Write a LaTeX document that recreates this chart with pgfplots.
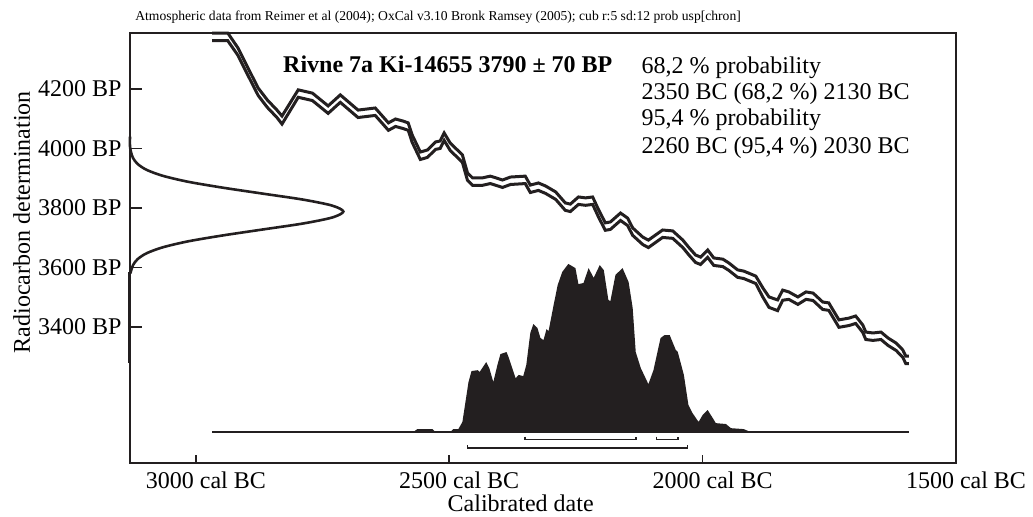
\documentclass[border=0pt,12pt]{standalone}
\usepackage{fontspec}
\setmainfont{Liberation Serif}
\usepackage{pgfplots}
\usepackage{pgfplotstable}
\pgfplotsset{compat=1.18}
\definecolor{ink}{HTML}{231F20}

% calibration curve: cal BC, upper and lower bound (BP)
\pgfplotstableread{
bc up lo
2968 4388 4362
2937 4388 4362
2917 4338 4313
2897 4270 4245
2877 4203 4178
2859 4163 4138
2840 4129 4104
2830 4109 4082
2798 4197 4172
2770 4186 4161
2739 4143 4118
2715 4180 4155
2680 4129 4104
2646 4136 4111
2620 4086 4061
2606 4099 4074
2591 4092 4067
2581 4086 4061
2573 4045 4020
2557 3988 3963
2543 3995 3970
2527 4022 3997
2518 4025 4000
2510 4052 4027
2498 4018 3993
2484 3995 3970
2474 3978 3953
2464 3918 3893
2454 3901 3876
2435 3901 3876
2419 3907 3882
2413 3904 3879
2395 3894 3869
2379 3904 3879
2350 3907 3882
2340 3877 3852
2324 3884 3859
2310 3874 3849
2290 3854 3829
2271 3817 3792
2261 3813 3788
2245 3837 3812
2231 3834 3809
2217 3837 3812
2205 3793 3768
2192 3750 3725
2182 3753 3728
2162 3783 3758
2148 3766 3741
2138 3733 3708
2118 3702 3677
2107 3692 3667
2093 3709 3684
2079 3726 3701
2059 3723 3698
2039 3692 3667
2028 3669 3644
2014 3642 3617
2004 3635 3610
1990 3659 3634
1978 3632 3607
1960 3628 3603
1948 3615 3590
1931 3592 3567
1919 3588 3563
1909 3581 3556
1895 3571 3546
1881 3531 3500
1869 3501 3466
1852 3491 3455
1842 3524 3490
1830 3518 3493
1812 3501 3476
1796 3518 3493
1782 3514 3489
1763 3484 3459
1751 3481 3456
1731 3424 3399
1711 3430 3405
1698 3437 3412
1684 3407 3382
1678 3383 3358
1664 3380 3355
1648 3383 3358
1634 3363 3338
1618 3346 3321
1605 3323 3298
1599 3302 3277
1593 3302 3277
}\calcurve

% posterior distribution, drawn on the baseline at 3047
\pgfplotstableread{
bc y
2571 3047
2563 3057
2533 3057
2527 3047
2498 3047
2492 3057
2482 3057
2474 3081
2468 3148
2462 3215
2456 3252
2444 3255
2440 3249
2427 3282
2421 3262
2413 3215
2405 3272
2399 3309
2387 3316
2383 3299
2369 3228
2363 3239
2354 3235
2348 3272
2340 3380
2334 3410
2326 3397
2320 3363
2314 3356
2308 3393
2304 3386
2294 3474
2286 3541
2277 3585
2265 3612
2251 3598
2245 3544
2235 3548
2225 3598
2215 3565
2203 3608
2195 3591
2186 3491
2182 3487
2172 3575
2158 3598
2146 3551
2138 3464
2132 3316
2122 3262
2107 3208
2097 3255
2083 3363
2075 3373
2065 3373
2053 3323
2049 3316
2037 3239
2028 3138
2020 3111
2008 3081
2000 3104
1990 3121
1980 3094
1974 3077
1954 3074
1944 3060
1919 3057
1905 3047
}\posterior

\begin{document}
\begin{tikzpicture}
\useasboundingbox (-65pt,-26.5pt) rectangle (451.5pt,231.5pt);
\begin{axis}[
  at={(0,0)}, anchor=south west,
  width=413pt, height=215pt, scale only axis,
  x dir=reverse, xmin=1500, xmax=3130, ymin=2943, ymax=4388,
  clip=false,
  axis line style={line width=1pt, color=ink},
  xtick={3000,2500,2000,1500},
  xticklabels={3000 cal BC,2500 cal BC,2000 cal BC,1500 cal BC},
  ytick={3400,3600,3800,4000,4200},
  yticklabels={3400 BP,3600 BP,3800 BP,4000 BP,4200 BP},
  tick align=inside, tick pos=left,
  major tick length=6pt,
  tick style={line width=0.8pt, color=ink},
  xtick style={/pgfplots/major tick length=4pt},
  xticklabel style={xshift=5pt},
  xlabel={Calibrated date}, ylabel={Radiocarbon determination},
  xlabel style={at={(axis description cs:0.473,-0.093)}, anchor=center},
  ylabel style={at={(axis description cs:-0.131,0.56)}, anchor=center},
]
\draw[ink, line width=1pt] (rel axis cs:0,0) rectangle (rel axis cs:1,1);
\addplot[fill=ink, draw=none] table[x=bc, y=y] {\posterior};
\addplot[ink, line width=0.8pt] coordinates {(2968,3047) (1593,3047)};
\addplot[ink, line width=1.5pt] table[x=bc, y=up] {\calcurve};
\addplot[ink, line width=1.5pt] table[x=bc, y=lo] {\calcurve};
% measured date as a distribution on the BP axis
\addplot[ink, line width=1.3pt, smooth] coordinates {
(3129,3580) (3128,3588) (3124,3608) (3115,3628) (3097,3648) (3065,3668)
(3015,3688) (2946,3708) (2867,3728) (2788,3748) (2731,3768) (2709,3788)
(2731,3808) (2788,3828) (2867,3848) (2946,3868) (3015,3888) (3065,3908)
(3097,3928) (3115,3948) (3124,3968) (3128,3988) (3130,4008) (3130,4040)};
\addplot[ink, line width=1.5pt] coordinates {(3130,3280) (3130,3584)};
% ranges
\addplot[ink, line width=0.8pt] coordinates {(2350,3032) (2350,3022) (2132,3022) (2132,3032)};
\addplot[ink, line width=0.8pt] coordinates {(2091,3032) (2091,3022) (2049,3022) (2049,3032)};
\addplot[ink, line width=0.8pt] coordinates {(2464,3003) (2464,2993) (2030,2993) (2030,3003)};
\node[anchor=base west, inner sep=0, font=\fontsize{6.8}{8}\selectfont]
  at (axis description cs:0.006,1.030)
  {Atmospheric data from Reimer et al (2004); OxCal v3.10 Bronk Ramsey (2005); cub r:5 sd:12 prob usp[chron]};
\node[anchor=base west, inner sep=0, font=\bfseries] at (axis description cs:0.185,0.907)
  {Rivne 7a Ki-14655 3790 ± 70 BP};
\node[anchor=base west, inner sep=0] at (axis description cs:0.619,0.905) {68,2 \% probability};
\node[anchor=base west, inner sep=0] at (axis description cs:0.619,0.845) {2350 BC (68,2 \%) 2130 BC};
\node[anchor=base west, inner sep=0] at (axis description cs:0.619,0.786) {95,4 \% probability};
\node[anchor=base west, inner sep=0] at (axis description cs:0.619,0.720) {2260 BC (95,4 \%) 2030 BC};
\end{axis}
\end{tikzpicture}
\end{document}
